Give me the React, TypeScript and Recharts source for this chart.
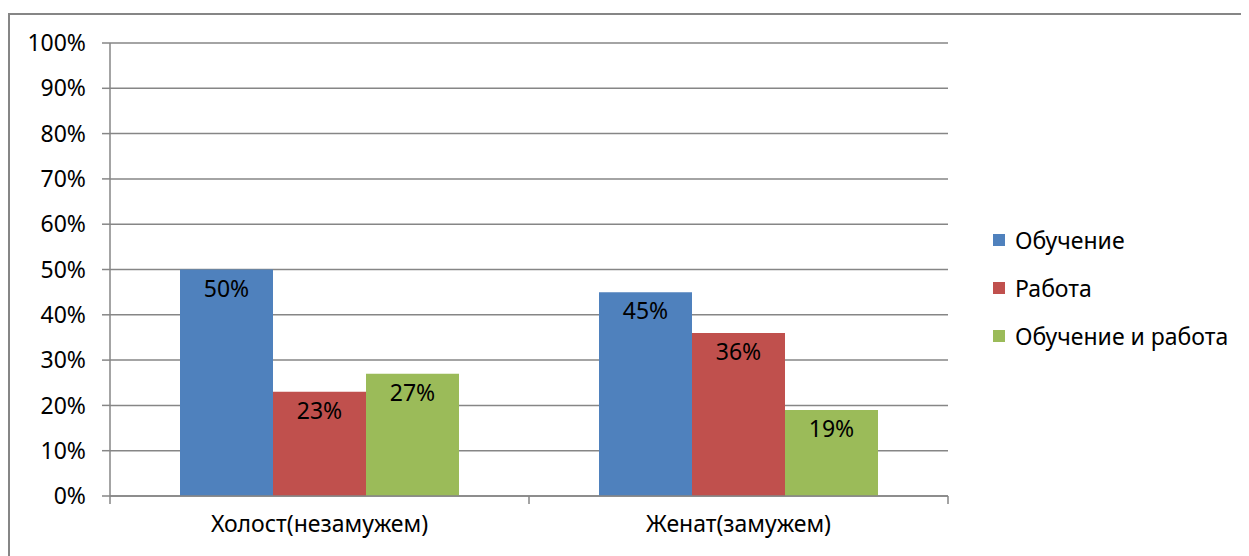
import React from 'react';
import {
  BarChart,
  Bar,
  XAxis,
  YAxis,
  CartesianGrid,
  LabelList,
} from 'recharts';

const categories = ['Холост(незамужем)', 'Женат(замужем)'];
const study = [50, 45];
const work = [23, 36];
const studyAndWork = [27, 19];
const yTicks = [0, 10, 20, 30, 40, 50, 60, 70, 80, 90, 100];

const series = [
  { key: 'study', name: 'Обучение', color: '#4f81bd' },
  { key: 'work', name: 'Работа', color: '#c0504d' },
  { key: 'both', name: 'Обучение и работа', color: '#9bbb59' },
];

const data = categories.map((c, i) => ({
  name: c,
  study: study[i],
  work: work[i],
  both: studyAndWork[i],
}));

const FONT = '"Noto Sans", sans-serif';
const GRAY = '#868686';
const FS = 23;
const TICK_MARGIN = 20;

// Excel-style category axis: tick marks sit on the category boundaries
function CategoryTick(props: any) {
  const { x, y, payload, index } = props;
  const half = payload.offset ?? 0;
  const axisY = y - TICK_MARGIN;
  return (
    <g>
      <line x1={x - half} x2={x - half} y1={axisY} y2={axisY + 8} stroke={GRAY} strokeWidth={1.5} />
      {index === categories.length - 1 && (
        <line x1={x + half} x2={x + half} y1={axisY} y2={axisY + 8} stroke={GRAY} strokeWidth={1.5} />
      )}
      <text
        x={x}
        y={y}
        dy="0.71em"
        textAnchor="middle"
        fill="#000"
        fontSize={FS}
        fontFamily={FONT}
      >
        {payload.value}
      </text>
    </g>
  );
}

function LegendBox() {
  return (
    <div
      style={{
        position: 'absolute',
        left: 983,
        top: 201,
        fontFamily: FONT,
        fontSize: FS,
        color: '#000',
      }}
    >
      {series.map((s) => (
        <div key={s.key} style={{ display: 'flex', alignItems: 'center', height: 48 }}>
          <span style={{ width: 12, height: 12, background: s.color, marginRight: 10 }} />
          <span>{s.name}</span>
        </div>
      ))}
    </div>
  );
}

export default function App() {
  return (
    <div
      style={{
        position: 'relative',
        marginTop: 5,
        width: 1239,
        height: 541,
        borderLeft: `2px solid ${GRAY}`,
        borderTop: `2px solid ${GRAY}`,
        background: '#fff',
      }}
    >
      <BarChart
        width={1239}
        height={541}
        data={data}
        margin={{ top: 28, right: 301, left: 0, bottom: 20 }}
        barCategoryGap={70}
        barGap={0}
      >
        <CartesianGrid vertical={false} stroke={GRAY} strokeWidth={1.5} />
        <XAxis
          dataKey="name"
          axisLine={{ stroke: GRAY, strokeWidth: 1.5 }}
          tickLine={false}
          tickSize={0}
          tickMargin={TICK_MARGIN}
          height={40}
          interval={0}
          tick={<CategoryTick />}
        />
        <YAxis
          width={100}
          domain={[0, 100]}
          ticks={yTicks}
          interval={0}
          tickFormatter={(v) => `${v}%`}
          tickSize={8}
          tickMargin={16}
          axisLine={{ stroke: GRAY, strokeWidth: 1.5 }}
          tickLine={{ stroke: GRAY, strokeWidth: 1.5 }}
          tick={{ fill: '#000', fontSize: FS, fontFamily: FONT }}
        />
        {series.map((s) => (
          <Bar
            key={s.key}
            dataKey={s.key}
            name={s.name}
            fill={s.color}
            isAnimationActive={false}
          >
            <LabelList
              dataKey={s.key}
              position="insideTop"
              offset={11}
              formatter={(v: number) => `${v}%`}
              style={{ fill: '#000', fontSize: FS, fontFamily: FONT }}
            />
          </Bar>
        ))}
      </BarChart>
      <LegendBox />
    </div>
  );
}
